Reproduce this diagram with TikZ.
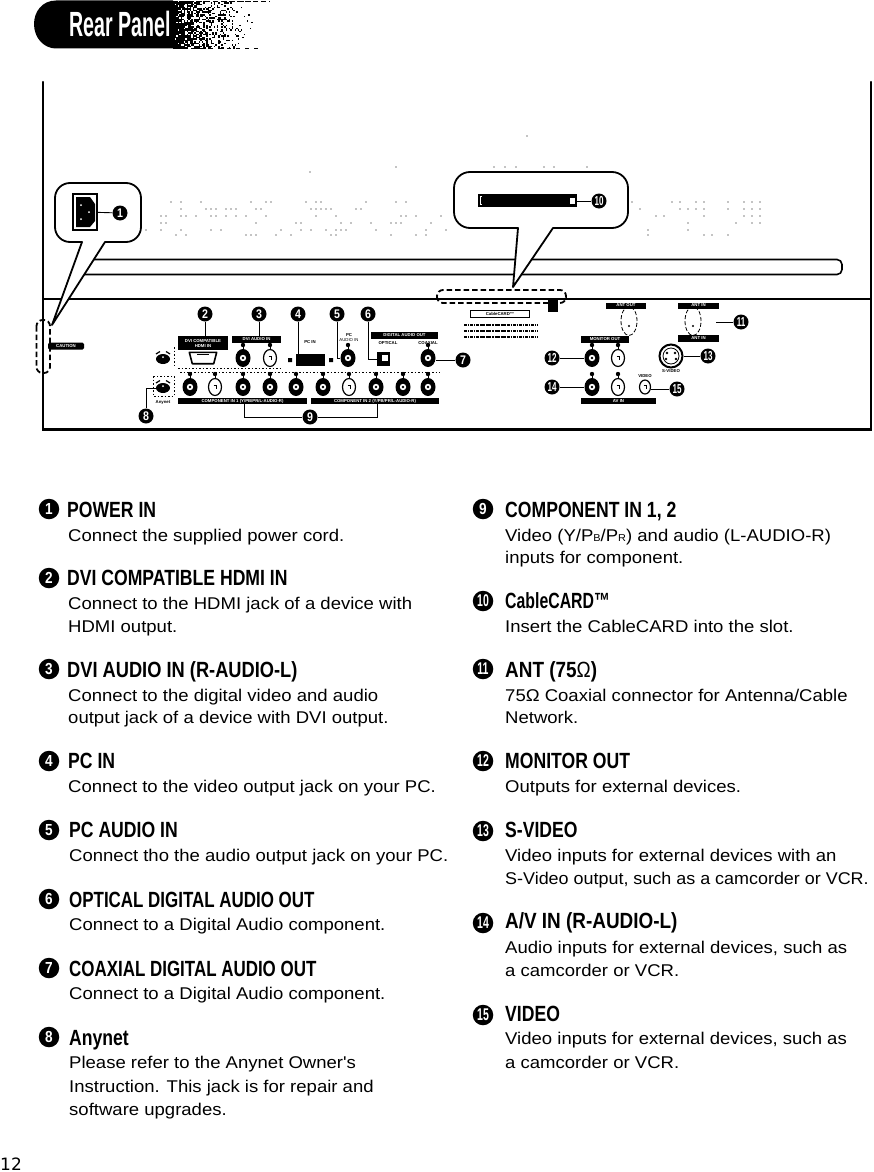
\documentclass[tikz,border=0pt]{standalone}
\usepackage{fontspec}
\usetikzlibrary{shapes.geometric,calc}
\setmainfont{Liberation Sans}
\newfontfamily\descfont[FakeStretch=1.09]{Liberation Sans}
\newfontfamily\descnarrow[FakeStretch=1.055]{Liberation Sans}
\newfontfamily\headfont[FakeStretch=0.8]{Liberation Sans}
\newfontfamily\headA[FakeStretch=0.77]{Liberation Sans}
\newfontfamily\headB[FakeStretch=0.72]{Liberation Sans}
\newfontfamily\headC[FakeStretch=0.83]{Liberation Sans}
\newfontfamily\headD[FakeStretch=0.86]{Liberation Sans}
\newfontfamily\titlefont[FakeStretch=0.56]{Liberation Sans}
\newfontfamily\numfont[FakeStretch=0.85]{Liberation Sans}
\newfontfamily\numtight[FakeStretch=0.62]{Liberation Sans}
\newfontfamily\pagefont{DejaVu Sans}
\tikzset{
  heading/.style={anchor=base west,inner sep=0pt,font=\headfont\bfseries\fontsize{22}{22}\selectfont},
  headingA/.style={heading,font=\headA\bfseries\fontsize{22}{22}\selectfont},
  headingB/.style={heading,font=\headB\bfseries\fontsize{22}{22}\selectfont},
  headingC/.style={heading,font=\headC\bfseries\fontsize{22}{22}\selectfont},
  headingD/.style={heading,font=\headD\bfseries\fontsize{22}{22}\selectfont},
  desc/.style={anchor=base west,inner sep=0pt,font=\descfont\fontsize{17}{18}\selectfont},
  lnum/.style={circle,fill=black,inner sep=0pt,minimum size=20.5pt,text=white,font=\numfont\bfseries\fontsize{16}{16}\selectfont},
  lnumb/.style={lnum,font=\numtight\bfseries\fontsize{17}{17}\selectfont},
  pnum/.style={circle,fill=black,inner sep=0pt,minimum size=15pt,text=white,font=\numfont\bfseries\fontsize{12.5}{12.5}\selectfont},
  pnumb/.style={pnum,font=\numtight\bfseries\fontsize{13}{13}\selectfont},
  conn/.style={line width=0.9pt},
  frameline/.style={line width=2.4pt,line cap=round},
  callout/.style={line width=1.8pt,fill=white,line join=round},
  plabel/.style={fill=black,text=white,inner sep=0pt,align=center,font=\bfseries\fontsize{4.3}{5}\selectfont},
  ptext/.style={inner sep=0pt,align=center,font=\fontsize{4.3}{5}\selectfont},
  jackf/.style={ellipse,fill=black,inner sep=0pt,minimum width=15pt,minimum height=18pt},
  jacko/.style={ellipse,draw=black,fill=white,line width=1.2pt,inner sep=0pt,minimum width=13pt,minimum height=17pt},
  portdash/.style={line width=0.5pt,dash pattern=on 1.5pt off 2pt},
  bigdash/.style={line width=1.8pt,dash pattern=on 5.5pt off 3pt,rounded corners=6pt},
  speck/.style={fill=black}
}
\newcommand\fjack[3]{%
  \node[jackf] (#1) at (#2,#3) {};
  \fill[white] (#2,#3) circle (3.2pt);
  \fill[black] (#2,#3) circle (1.4pt);
  \fill[black] (#2,#3-13) circle (2.2pt);
  \draw[line width=.8pt] (#2,#3-13) -- (#1.north);
}
\newcommand\ojack[3]{%
  \node[jacko] (#1) at (#2,#3) {};
  \draw[line width=.7pt] (#2-1.5,#3-2) -- (#2+1.5,#3-2) -- (#2+1.5,#3+2);
  \fill[black] (#2,#3-13) circle (2.2pt);
  \draw[line width=.8pt] (#2,#3-13) -- (#1.north);
}
\begin{document}
\begin{tikzpicture}[x=1pt,y=-1pt]
\useasboundingbox (0,0) rectangle (874,1172);
% banner
\fill[black] (56,0.5) -- (173,0.5) -- (173,48.5) -- (56,48.5) .. controls (44,48.5) and (34,38) .. (34,24) .. controls (34,12) and (42,0.5) .. (56,0.5) -- cycle;
\pgfmathsetseed{11}
\foreach \xx in {173,174.5,...,262}{
  \pgfmathtruncatemacro\thr{100*((262-\xx)/89)^1.8}
  \foreach \yy in {1,2.5,...,48}{
    \pgfmathrandominteger{\rr}{0}{100}
    \ifnum\rr<\thr\relax \fill[speck] (\xx,\yy) rectangle ++(1.5,1.5);\fi
  }
}
\draw[line width=.6pt,dash pattern=on 5pt off 3pt] (173,1) -- (270,1);
\draw[line width=.6pt,dash pattern=on 4pt off 5pt] (173,48) -- (260,48);
\node[anchor=base west,inner sep=0pt,text=white,font=\titlefont\bfseries\fontsize{35}{35}\selectfont] (title) at (69,37) {Rear Panel};
% specks in TV body
\foreach \yy in {202,209,216,223,230,235}{
  \foreach \xx in {146,151,...,450,632,640,...,760}{
    \pgfmathrandominteger{\rr}{0}{100}
    \ifnum\rr<28\relax \fill[speck] (\xx,\yy) circle (0.55pt);\fi
  }
}
\fill[speck] (310,172) circle (.6pt) (396,167) circle (.6pt) (527,136) circle (.6pt);
\foreach \xx in {494,505,516,544,554,587}{\fill[speck] (\xx,167) circle (.6pt);}
% frame
\draw[frameline] (43,82) -- (43,429.5) -- (871,429.5) -- (871,82);
\draw[line width=2pt] (43,298.5) -- (871,298.5);
% long bar
\draw[line width=1.6pt,rounded corners=5pt] (80,259.5) -- (842,259.5) -- (842,274.5) -- (75,274.5);
% callouts
\draw[callout] (70,183) -- (126,183) arc[start angle=-90,end angle=0,radius=15] -- ++(0,29)
  arc[start angle=0,end angle=90,radius=15] -- (105,242) -- (52,325) -- (82,242) -- (70,242)
  arc[start angle=90,end angle=180,radius=15] -- ++(0,-29) arc[start angle=180,end angle=270,radius=15] -- cycle;
\draw[callout] (470,172) -- (612,172) arc[start angle=-90,end angle=0,radius=16] -- ++(0,24)
  arc[start angle=0,end angle=90,radius=16] -- (553,228) -- (513,287) -- (518,228) -- (470,228)
  arc[start angle=90,end angle=180,radius=16] -- ++(0,-24) arc[start angle=180,end angle=270,radius=16] -- cycle;
% power inlet
\node[draw,line width=1.2pt,fill=white,minimum width=24pt,minimum height=36pt,inner sep=0pt] (power) at (85,212) {};
\fill[black] (76,197) -- (90,197) -- (95,204) -- (95,221) -- (90,227) -- (76,227) -- cycle;
\fill[white] (81,205) circle (1pt) (81,219) circle (1pt) (89,212) circle (1pt);
\node[pnum] (p1) at (120,213) {1};
\draw[conn] (power) -- (p1);
% card slot
\node[fill=black,draw,minimum width=98pt,minimum height=12pt,inner sep=0pt] (slot) at (527,200) {};
\node[fill=white,minimum width=5pt,minimum height=6pt,inner sep=0pt] (slotend) at (572,200.5) {};
\draw[white,line width=.7pt] (482,196) -- (480,196) -- (480,204) -- (482,204);
\node[pnumb] (p10) at (599,201) {10};
\draw[conn] (slot.east|-p10) -- (p10);
% dashed zones
\draw[bigdash] (36.5,320) rectangle (50,373);
\draw[bigdash] (437,290) rectangle (566,303);
\node[fill=black,minimum width=10pt,minimum height=12pt,inner sep=0pt] (cardtab) at (553,306) {};
\node[plabel,minimum width=36pt,minimum height=7pt,rounded corners=1.5pt] (caution) at (66,346) {CAUTION};
% cablecard label
\node[draw,line width=.4pt,ptext,minimum width=59pt,minimum height=7pt] (cardlab) at (500,314) {\bfseries CableCARD™};
\foreach \yy in {325,331,337}{\draw[line width=1.7pt,dash pattern=on 3pt off .8pt on 1.5pt off .8pt] (464,\yy) -- (538,\yy);}
% left panel: labels
\node[plabel,minimum width=50pt,minimum height=14pt] (bar2) at (203,343) {DVI COMPATIBLE\\HDMI IN};
\node[plabel,minimum width=49pt,minimum height=7pt] (bar3) at (256.5,339.5) {DVI AUDIO IN};
\node[plabel,minimum width=67pt,minimum height=7pt] (bardig) at (404.5,335.5) {DIGITAL AUDIO OUT};
\node[plabel,minimum width=129pt,minimum height=6.5pt] (barc1) at (242.5,401) {COMPONENT IN 1 (Y/PB/PR/L-AUDIO-R)};
\node[plabel,minimum width=128pt,minimum height=6.5pt] (barc2) at (375,401) {COMPONENT IN 2 (Y/PB/PR/L-AUDIO-R)};
\node[ptext] (tpc) at (310,342) {\bfseries PC IN};
\node[ptext] (tpca) at (349,338) {\bfseries PC\\AUDIO IN};
\node[ptext] (topt) at (388,343) {\bfseries OPTICAL};
\node[ptext] (tcoa) at (428,343) {\bfseries COAXIAL};
\node[ptext] (tany) at (163,402) {\bfseries Anynet};
% port outlines
\draw[portdash] (153,376) rectangle (174,396);
\draw[portdash] (174,347) -- (174,368);
\draw[portdash] (180,372) -- (440,372);
\draw[portdash] (178,368) -- (280,368);
% anynet icons
\node[ellipse,fill=black,minimum width=14pt,minimum height=10pt,inner sep=0pt] (any1) at (163,359) {};
\node[ellipse,fill=black,minimum width=14pt,minimum height=10pt,inner sep=0pt] (any2) at (163,388) {};
\draw[line width=1.2pt] (156,354) -- (160,351.5) (170,354) -- (166,351.5) (156,383) -- (160,380.5) (170,383) -- (166,380.5);
\fill[white] (163,357) circle (1pt) (163,386) circle (1pt);
% hdmi
\node[minimum width=27pt,minimum height=11pt,inner sep=0pt] (hdmi) at (203,358) {};
\draw[line width=1.6pt,line join=round] (hdmi.north west) -- (hdmi.north east) -- ([xshift=-3pt]hdmi.south east) -- ([xshift=3pt]hdmi.south west) -- cycle;
\draw[line width=1pt] (197,354.5) -- (209,354.5);
% pc in
\node[fill=black,minimum width=29pt,minimum height=12pt,inner sep=0pt] (pcin) at (310,360) {};
\fill[black] (288,358) rectangle (292,362) (329,358) rectangle (333,362);
% optical
\node[fill=black,minimum width=13pt,minimum height=14pt,inner sep=0pt] (optical) at (383.5,359) {};
\fill[white] (382,355) rectangle (388,361);
% jacks
\fjack{j3a}{243}{358}
\ojack{j3b}{270}{358}
\fjack{j5}{348}{358}
\fjack{j7}{428}{358}
\fjack{c1}{190}{387}
\ojack{c2}{215}{387}
\fjack{c3}{243}{387}
\fjack{c4}{270}{387}
\fjack{c5}{296}{387}
\fjack{c6}{323}{387}
\ojack{c7}{349}{387}
\fjack{c8}{376}{387}
\fjack{c9}{403}{387}
\fjack{c10}{428}{387}
% panel numbers
\node[pnum] (p2) at (205,314) {2};
\node[pnum] (p3) at (259,314) {3};
\node[pnum] (p4) at (298,314) {4};
\node[pnum] (p5) at (337,314) {5};
\node[pnum] (p6) at (368,314) {6};
\node[pnum] (p7) at (463,360) {7};
\node[pnum] (p8) at (146,416) {8};
\node[pnum] (p9) at (310,417) {9};
\coordinate (b9l) at (244,404);
\coordinate (b9r) at (377,404);
\draw[conn] (p2) -- (p2|-bar2.north);
\draw[conn] (p3) -- (p3|-bar3.north);
\draw[conn] (p4) -- (p4|-pcin.north);
\draw[conn] (p5) |- (j5.west);
\draw[conn] (p6) |- (optical.west);
\draw[conn] (p7) -- (p7-|j7.east);
\draw[conn] (p8) |- (any2.west);
\draw[conn] (b9l) |- (p9);
\draw[conn] (b9r) |- (p9);
% right panel
\node[plabel,minimum width=40pt,minimum height=6pt] (barr1) at (626,305.5) {ANT OUT};
\node[plabel,minimum width=41pt,minimum height=6pt] (barr2) at (698.5,305.5) {ANT IN};
\node[draw,ellipse,dash pattern=on 4pt off 2pt,line width=.8pt,minimum width=16pt,minimum height=29pt,inner sep=0pt] (ant1) at (629,321) {};
\node[draw,ellipse,dash pattern=on 4pt off 2pt,line width=.8pt,minimum width=16pt,minimum height=29pt,inner sep=0pt] (ant2) at (693,321) {};
\fill[black] (629,326) circle (1.2pt) (693,326) circle (1.2pt);
\node[plabel,minimum width=41pt,minimum height=7pt] (barr3) at (698.5,338) {ANT IN};
\node[plabel,minimum width=48pt,minimum height=7pt] (barmon) at (605,339.5) {MONITOR OUT};
\node[plabel,minimum width=75pt,minimum height=6.5pt] (barav) at (618.5,401) {AV IN};
\fjack{m1}{592}{358}
\ojack{m2}{618}{358}
\fjack{a1}{592}{387}
\ojack{a2}{618}{387}
\node[jacko,minimum width=11pt,minimum height=14pt] (a3) at (645,387) {};
\draw[line width=.7pt] (643.5,385) -- (646.5,385) -- (646.5,389);
\node[ptext] (tvid) at (645,376) {\bfseries VIDEO};
\node[circle,draw,line width=2pt,fill=white,minimum size=23pt,inner sep=0pt] (svid) at (671,356) {};
\draw[line width=.8pt] (671,356) circle (8pt);
\fill[black] (667,353) circle (1.3pt) (675,353) circle (1.3pt) (666,359) circle (1.3pt) (676,359) circle (1.3pt);
\node[ptext] (tsvid) at (671,371) {\bfseries S-VIDEO};
\node[pnumb] (p11) at (741,322) {11};
\node[pnumb] (p12) at (552,358) {12};
\node[pnumb] (p13) at (708,356) {13};
\node[pnumb] (p14) at (552,387) {14};
\node[pnumb] (p15) at (677,389) {15};
\coordinate (ant11) at (716,322);
\draw[conn] (p11) -- (ant11);
\draw[conn] (p12) -- (p12-|m1.west);
\draw[conn] (p13) -- (svid);
\draw[conn] (p14) -- (p14-|a1.west);
\draw[conn] (p15) -- (p15-|a3.east);
% legend left
\node[lnum] (n1) at (49,509) {1};
\node[heading] (h1) at (67,517) {POWER IN};
\node[desc] (d1) at (68,541) {Connect the supplied power cord.};
\node[lnum] (n2) at (49,578) {2};
\node[heading] (h2) at (67,585) {DVI COMPATIBLE HDMI IN};
\node[desc] (d2a) at (68,609) {Connect to the HDMI jack of a device with};
\node[desc] (d2b) at (68,632) {HDMI output.};
\node[lnum] (n3) at (49,669) {3};
\node[headingC] (h3) at (67,677) {DVI AUDIO IN (R-AUDIO-L)};
\node[desc] (d3a) at (68,701) {Connect to the digital video and audio};
\node[desc] (d3b) at (68,723) {output jack of a device with DVI output.};
\node[lnum] (n4) at (49,761) {4};
\node[heading] (h4) at (68,768) {PC IN};
\node[desc] (d4) at (68,792) {Connect to the video output jack on your PC.};
\node[lnum] (n5) at (49,830) {5};
\node[heading] (h5) at (69,837) {PC AUDIO IN};
\node[desc] (d5) at (69,861) {Connect tho the audio output jack on your PC.};
\node[lnum] (n6) at (49,899) {6};
\node[headingA] (h6) at (69,907) {OPTICAL DIGITAL AUDIO OUT};
\node[desc] (d6) at (69,930) {Connect to a Digital Audio component.};
\node[lnum] (n7) at (49,968) {7};
\node[headingA] (h7) at (69,976) {COAXIAL DIGITAL AUDIO OUT};
\node[desc] (d7) at (69,999) {Connect to a Digital Audio component.};
\node[lnum] (n8) at (49,1037) {8};
\node[heading] (h8) at (69,1045) {Anynet};
\node[desc] (d8a) at (69,1068) {Please refer to the Anynet Owner's};
\node[desc] (d8b) at (69,1092) {Instruction. This jack is for repair and};
\node[desc] (d8c) at (69,1115) {software upgrades.};
% legend right
\node[lnum] (n9) at (483,509) {9};
\node[heading] (h9) at (505,517) {COMPONENT IN 1, 2};
\node[desc] (d9a) at (505,541) {Video (Y/P{\fontsize{10}{10}\selectfont B}/P{\fontsize{10}{10}\selectfont R}) and audio (L-AUDIO-R)};
\node[desc] (d9b) at (505,563) {inputs for component.};
\node[lnumb] (n10) at (483,601) {10};
\node[headingB] (h10) at (505,608) {CableCARD™};
\node[desc] (d10) at (505,632) {Insert the CableCARD into the slot.};
\node[lnumb] (n11) at (483,669) {11};
\node[headingD] (h11) at (505,677) {ANT (75{\mdseries Ω})};
\node[desc] (d11a) at (505,701) {75Ω Coaxial connector for Antenna/Cable};
\node[desc] (d11b) at (505,723) {Network.};
\node[lnumb] (n12) at (483,761) {12};
\node[heading] (h12) at (505,768) {MONITOR OUT};
\node[desc] (d12) at (505,792) {Outputs for external devices.};
\node[lnumb] (n13) at (483,831) {13};
\node[heading] (h13) at (505,837) {S-VIDEO};
\node[desc] (d13a) at (505,861) {Video inputs for external devices with an};
\node[desc,font=\descnarrow\fontsize{17}{18}\selectfont] (d13b) at (505,884) {S-Video output, such as a camcorder or VCR.};
\node[lnumb] (n14) at (483,923) {14};
\node[headingD] (h14) at (505,928) {A/V IN (R-AUDIO-L)};
\node[desc] (d14a) at (505,953) {Audio inputs for external devices, such as};
\node[desc] (d14b) at (505,976) {a camcorder or VCR.};
\node[lnumb] (n15) at (483,1015) {15};
\node[heading] (h15) at (505,1021) {VIDEO};
\node[desc] (d15a) at (505,1044) {Video inputs for external devices, such as};
\node[desc] (d15b) at (505,1068) {a camcorder or VCR.};
% page number
\node[anchor=base west,inner sep=0pt,font=\pagefont\fontsize{17}{17}\selectfont] (page) at (0,1170) {12};
\end{tikzpicture}
\end{document}
